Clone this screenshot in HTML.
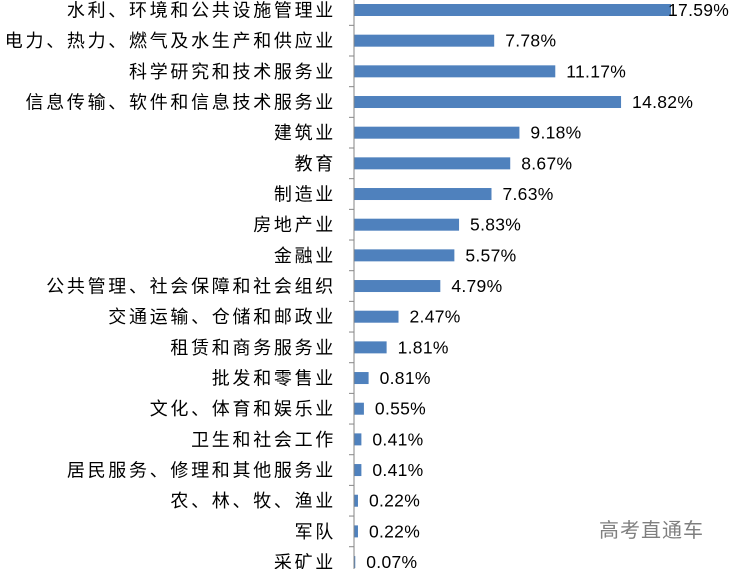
<!DOCTYPE html>
<html><head><meta charset="utf-8"><style>
html,body{margin:0;padding:0;background:#fff;width:735px;height:569px;overflow:hidden}
svg{display:block}
.l{font-family:"Liberation Sans","Noto Sans CJK SC",sans-serif;font-size:18px;fill:#000;letter-spacing:2.7px}
.v{font-family:"Liberation Sans","Noto Sans CJK SC",sans-serif;font-size:17.5px;fill:#000;letter-spacing:0.3px}
</style></head><body>
<svg width="735" height="569" viewBox="0 0 735 569" xmlns="http://www.w3.org/2000/svg">
<g id="g"></g>
<line x1="354" y1="0" x2="354" y2="569" stroke="#868686" stroke-width="1"/>
<text x="599" y="537" font-family="Liberation Sans,Noto Sans CJK SC,sans-serif" font-size="20" fill="#7f7f7f" style="letter-spacing:1px">高考直通车</text>
</svg>
<script>
var d=[["水利、环境和公共设施管理业",17.59],["电力、热力、燃气及水生产和供应业",7.78],["科学研究和技术服务业",11.17],["信息传输、软件和信息技术服务业",14.82],["建筑业",9.18],["教育",8.67],["制造业",7.63],["房地产业",5.83],["金融业",5.57],["公共管理、社会保障和社会组织",4.79],["交通运输、仓储和邮政业",2.47],["租赁和商务服务业",1.81],["批发和零售业",0.81],["文化、体育和娱乐业",0.55],["卫生和社会工作",0.41],["居民服务、修理和其他服务业",0.41],["农、林、牧、渔业",0.22],["军队",0.22],["采矿业",0.07]];
var s="";
for(var i=0;i<d.length;i++){
 var c=10+30.67*i, w=d[i][1]*18.02, x=354+w;
 s+='<rect x="354" y="'+(c-6)+'" width="'+w+'" height="12" fill="#4f81bd"/>';
 s+='<text class="l" x="336" y="'+(c+6.5)+'" text-anchor="end">'+d[i][0]+'</text>';
 var vx=i==0?668:x+11;
 s+='<text class="v" x="'+vx+'" y="'+(c+6)+'">'+d[i][1].toFixed(2)+'%</text>';
 if(i<d.length-1){var t=c+15.33;s+='<line x1="349" y1="'+t+'" x2="354" y2="'+t+'" stroke="#868686"/>';}
}
document.getElementById("g").innerHTML=s;
</script>
</body></html>
